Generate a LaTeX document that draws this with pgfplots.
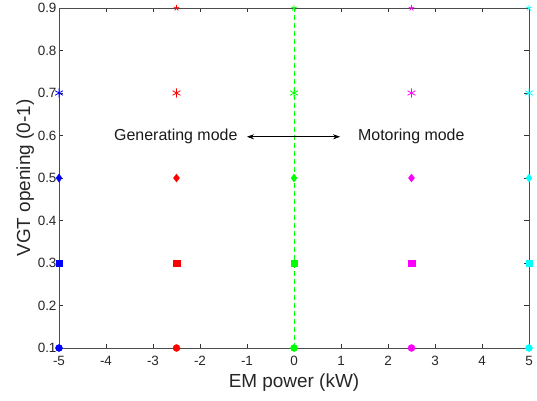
\documentclass[border=0pt]{standalone}
\usepackage{fontspec}
\setmainfont{Liberation Sans}
\usepackage{pgfplots}
\pgfplotsset{compat=1.18}
\usetikzlibrary{arrows.meta}
\definecolor{mB}{RGB}{0,0,255}
\definecolor{mR}{RGB}{255,0,0}
\definecolor{mG}{RGB}{0,255,0}
\definecolor{mM}{RGB}{255,0,255}
\definecolor{mC}{RGB}{0,255,255}
\begin{document}
\begin{tikzpicture}
\begin{axis}[
  anchor=south west, at={(0,0)},
  scale only axis,
  width=470bp, height=340bp,
  xmin=-5, xmax=5, ymin=0.1, ymax=0.9,
  xtick={-5,-4,...,5},
  ytick={0.1,0.2,0.3,0.4,0.5,0.6,0.7,0.8,0.9},
  yticklabel style={/pgf/number format/fixed,/pgf/number format/precision=1,/pgf/number format/fixed zerofill, xshift=1bp},
  xticklabel style={yshift=-5bp},
  /pgf/number format/assume math mode=true,
  tick align=inside,
  tick style={black!80, line width=0.5pt},
  major tick length=4.5bp,
  axis line style={black!70, line width=0.6pt},
  ticklabel style={font=\fontsize{13.5}{15}\selectfont, text=black!85},
  xlabel={EM power (kW)}, ylabel={VGT opening (0-1)},
  label style={font=\fontsize{19}{22}\selectfont, text=black!85},
  xlabel style={yshift=-1bp},
  ylabel style={yshift=-3bp},
  clip=false,
]
\addplot[color=mG, line width=0.8pt, dash pattern=on 5bp off 3bp] coordinates {(0,0.1) (0,0.9)};
% circles at 0.1
\addplot[only marks, mark=*, mark size=3.5bp, color=mB] coordinates {(-5,0.1)};
\addplot[only marks, mark=*, mark size=3.5bp, color=mR] coordinates {(-2.5,0.1)};
\addplot[only marks, mark=*, mark size=3.5bp, color=mG] coordinates {(0,0.1)};
\addplot[only marks, mark=*, mark size=3.5bp, color=mM] coordinates {(2.5,0.1)};
\addplot[only marks, mark=*, mark size=3.5bp, color=mC] coordinates {(5,0.1)};
% squares at 0.3
\addplot[only marks, mark=square*, mark size=3.2bp, color=mB] coordinates {(-5,0.3)};
\addplot[only marks, mark=square*, mark size=3.2bp, color=mR] coordinates {(-2.5,0.3)};
\addplot[only marks, mark=square*, mark size=3.2bp, color=mG] coordinates {(0,0.3)};
\addplot[only marks, mark=square*, mark size=3.2bp, color=mM] coordinates {(2.5,0.3)};
\addplot[only marks, mark=square*, mark size=3.2bp, color=mC] coordinates {(5,0.3)};
% diamonds at 0.5
\addplot[only marks, mark=diamond*, mark size=4bp, color=mB] coordinates {(-5,0.5)};
\addplot[only marks, mark=diamond*, mark size=4bp, color=mR] coordinates {(-2.5,0.5)};
\addplot[only marks, mark=diamond*, mark size=4bp, color=mG] coordinates {(0,0.5)};
\addplot[only marks, mark=diamond*, mark size=4bp, color=mM] coordinates {(2.5,0.5)};
\addplot[only marks, mark=diamond*, mark size=4bp, color=mC] coordinates {(5,0.5)};
% asterisks at 0.7
\addplot[only marks, mark=asterisk, mark size=4.5bp, line width=0.8pt, color=mB] coordinates {(-5,0.7)};
\addplot[only marks, mark=asterisk, mark size=4.5bp, line width=0.8pt, color=mR] coordinates {(-2.5,0.7)};
\addplot[only marks, mark=asterisk, mark size=4.5bp, line width=0.8pt, color=mG] coordinates {(0,0.7)};
\addplot[only marks, mark=asterisk, mark size=4.5bp, line width=0.8pt, color=mM] coordinates {(2.5,0.7)};
\addplot[only marks, mark=asterisk, mark size=4.5bp, line width=0.8pt, color=mC] coordinates {(5,0.7)};
% stars at 0.9
\addplot[only marks, mark=star, mark size=3bp, line width=0.7pt, color=mR] coordinates {(-2.5,0.9)};
\addplot[only marks, mark=star, mark size=3bp, line width=0.7pt, color=mG] coordinates {(0,0.9)};
\addplot[only marks, mark=star, mark size=3bp, line width=0.7pt, color=mM] coordinates {(2.5,0.9)};
\addplot[only marks, mark=star, mark size=3bp, line width=0.7pt, color=mC] coordinates {(5,0.9)};
% annotation
\draw[{Stealth[length=7bp,width=5bp]}-{Stealth[length=7bp,width=5bp]}, line width=0.6pt] (axis cs:-1.0,0.597) -- (axis cs:0.98,0.597);
\node[anchor=east, font=\fontsize{16}{18}\selectfont, text=black!90, inner sep=0pt] at (axis cs:-1.2,0.597) {Generating mode};
\node[anchor=west, font=\fontsize{16}{18}\selectfont, text=black!90, inner sep=0pt] at (axis cs:1.36,0.597) {Motoring mode};
\end{axis}
\pgfresetboundingbox
\path (-59bp,-53bp) rectangle (478bp,348bp);
\end{tikzpicture}
\end{document}
